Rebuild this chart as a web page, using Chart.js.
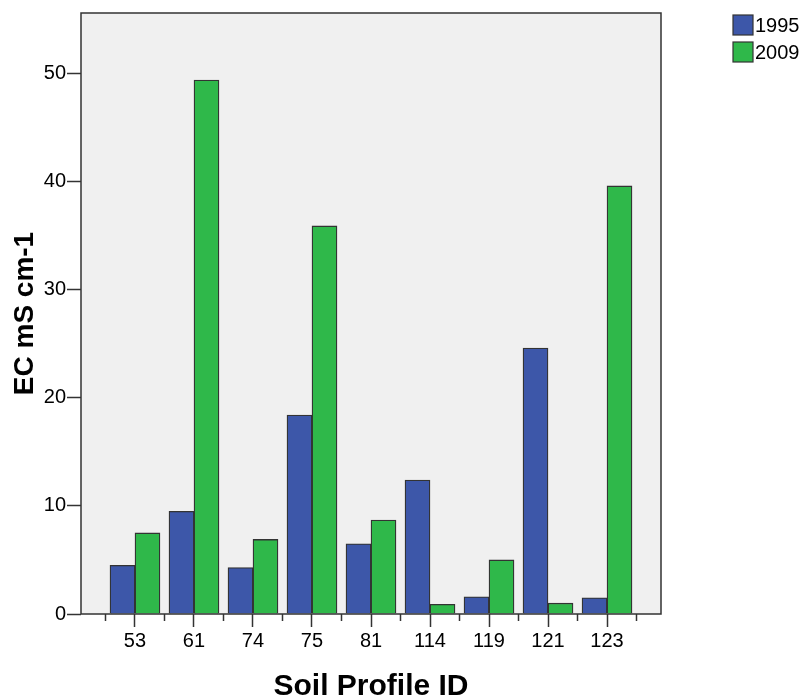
<!DOCTYPE html>
<html>
<head>
<meta charset="utf-8">
<script src="https://cdn.jsdelivr.net/npm/chart.js@4/dist/chart.umd.min.js"></script>
<style>
  html, body { margin: 0; padding: 0; background: #fff; }
  #wrap { width: 802px; height: 698px; }
</style>
</head>
<body>
<div id="wrap"><canvas id="myChart" width="802" height="698"></canvas></div>
<script>
const profiles = ['53', '61', '74', '75', '81', '114', '119', '121', '123']
const ec1995 = [4.5, 9.5, 4.3, 18.4, 6.5, 12.4, 1.6, 24.6, 1.5]
const ec2009 = [7.5, 49.4, 6.9, 35.9, 8.7, 0.9, 5.0, 1.0, 39.6]
const yTicks = [0, 10, 20, 30, 40, 50]

const ctx = document.getElementById('myChart').getContext('2d')
const font = 'Arial, "Liberation Sans", sans-serif'
const blue = '#3d57a9'
const green = '#2fb84a'
const edge = '#333333'

const toPoints = (vals) => vals.map((v, i) => ({ x: i, y: v }))

// grey plot box with a dark frame
const plotBox = {
    id: 'plotBox',
    beforeDatasetsDraw(chart) {
        const a = chart.chartArea
        const c = chart.ctx
        c.save()
        c.fillStyle = '#f0f0f0'
        c.fillRect(a.left, a.top, a.right - a.left, a.bottom - a.top)
        c.restore()
    },
    afterDatasetsDraw(chart) {
        const a = chart.chartArea
        const c = chart.ctx
        c.save()
        c.strokeStyle = edge
        c.lineWidth = 1.5
        c.strokeRect(a.left, a.top, a.right - a.left, a.bottom - a.top)
        c.restore()
    }
}

// legend in the top right corner, SPSS style
const boxLegend = {
    id: 'boxLegend',
    afterDraw(chart) {
        const c = chart.ctx
        const x = 733
        let y = 15
        c.save()
        c.font = '20px ' + font
        c.textBaseline = 'middle'
        chart.data.datasets.forEach(ds => {
            c.fillStyle = ds.backgroundColor
            c.fillRect(x, y, 20, 20)
            c.strokeStyle = edge
            c.lineWidth = 1.2
            c.strokeRect(x, y, 20, 20)
            c.fillStyle = '#000'
            c.fillText(ds.label, x + 22, y + 11)
            y += 27
        })
        c.restore()
    }
}

const data = {
    datasets: [{
        label: '1995',
        data: toPoints(ec1995),
        backgroundColor: blue,
        borderColor: edge,
        borderWidth: 1.3,
        borderSkipped: 'bottom',
        barThickness: 25
    }, {
        label: '2009',
        data: toPoints(ec2009),
        backgroundColor: green,
        borderColor: edge,
        borderWidth: 1.3,
        borderSkipped: 'bottom',
        barThickness: 25
    }]
}

const config = {
    type: 'bar',
    data: data,
    plugins: [plotBox, boxLegend],
    options: {
        responsive: false,
        animation: false,
        layout: {
            padding: { left: 0, top: 8, right: 141, bottom: 0 }
        },
        plugins: {
            legend: { display: false },
            tooltip: { enabled: false }
        },
        scales: {
            x: {
                type: 'linear',
                offset: false,
                min: -0.915,
                max: 8.915,
                weight: 1,
                afterBuildTicks: (scale) => {
                    scale.ticks = profiles.map((p, i) => ({ value: i }))
                },
                afterFit: (scale) => { scale.height = 84 },
                ticks: {
                    includeBounds: false,
                    autoSkip: false,
                    maxRotation: 0,
                    color: '#000',
                    padding: 2,
                    font: { family: font, size: 20 },
                    callback: (value) => profiles[value]
                },
                grid: {
                    offset: false,
                    drawOnChartArea: false,
                    drawTicks: true,
                    tickLength: 13,
                    tickWidth: 1.5,
                    tickColor: edge
                },
                border: { display: false },
                title: {
                    display: true,
                    text: 'Soil Profile ID',
                    color: '#000',
                    font: { family: font, size: 30, weight: 'bold', lineHeight: 0.77 },
                    padding: { top: 0, bottom: 0 }
                }
            },
            x2: {
                type: 'linear',
                position: 'bottom',
                offset: false,
                min: -0.915,
                max: 8.915,
                weight: 0,
                afterBuildTicks: (scale) => {
                    const bounds = [-0.5]
                    profiles.forEach((p, i) => bounds.push(i + 0.5))
                    scale.ticks = bounds.map(v => ({ value: v }))
                },
                afterFit: (scale) => { scale.height = 0 },
                ticks: { display: false },
                grid: {
                    offset: false,
                    drawOnChartArea: false,
                    drawTicks: true,
                    tickLength: 7,
                    tickWidth: 1.5,
                    tickColor: edge
                },
                border: { display: false }
            },
            y: {
                min: 0,
                max: 55.6,
                afterBuildTicks: (scale) => {
                    scale.ticks = yTicks.map(v => ({ value: v }))
                },
                afterFit: (scale) => { scale.width = 81 },
                ticks: {
                    color: '#000',
                    padding: 1,
                    font: { family: font, size: 20 }
                },
                grid: {
                    drawOnChartArea: false,
                    drawTicks: true,
                    tickLength: 14,
                    tickWidth: 1.5,
                    tickColor: edge
                },
                border: { display: false },
                title: {
                    display: true,
                    text: 'EC mS cm-1',
                    color: '#000',
                    font: { family: font, size: 28, weight: 'bold', lineHeight: 1.2 },
                    padding: { top: 8, bottom: 4 }
                }
            }
        }
    }
}

window.ctx = new Chart(ctx, config)
</script>
</body>
</html>
